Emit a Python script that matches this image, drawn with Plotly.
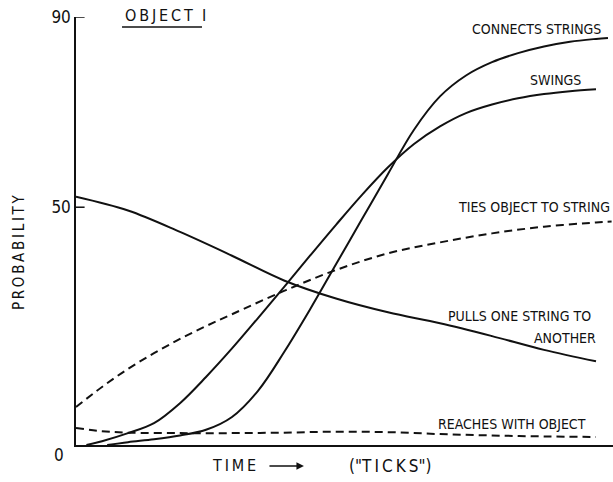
import plotly.graph_objects as go

# Probability of each behaviour over time (in "ticks") for object 1
time_pulls = [0, 10, 20, 30, 40, 50, 60, 70, 80, 90, 100]
pulls = [52.2, 49.3, 44.8, 39.8, 34.6, 30.8, 27.9, 25.6, 22.9, 20.0, 17.6]

time_ties = [0, 5, 10, 15, 20, 25, 30, 40, 50, 60, 70, 80, 90, 100, 103]
ties = [8.0, 12.2, 16.0, 19.3, 22.3, 25.0, 27.5, 32.4, 36.8, 40.3, 42.6, 44.5, 45.9, 46.8, 47.0]

time_swings = [2, 5, 10, 15, 20, 25, 30, 35, 40, 45, 50, 55, 60, 65, 70, 75, 80, 85, 90, 95, 100]
swings = [0.0, 0.8, 2.5, 4.6, 8.8, 14.3, 20.3, 26.7, 33.2, 39.8, 46.3, 52.6, 58.4, 63.3, 67.0, 69.8, 71.6, 72.9, 73.8, 74.4, 74.8]

time_connects = [6, 10, 15, 20, 25, 30, 35, 40, 45, 50, 55, 60, 65, 70, 75, 80, 85, 90, 95, 100, 102.3]
connects = [0.0, 0.6, 1.2, 2.0, 3.2, 5.9, 11.4, 19.5, 28.5, 38.0, 47.5, 57.0, 66.3, 73.3, 77.7, 80.5, 82.4, 83.8, 84.8, 85.4, 85.6]

time_reaches = [0, 5, 10, 20, 30, 40, 50, 60, 70, 80, 90, 100]
reaches = [3.6, 2.9, 2.6, 2.5, 2.5, 2.6, 2.8, 2.7, 2.3, 2.0, 1.8, 1.7]

y_ticks = [50, 90]
y_tick_text = ["50", "90"]

FONT = "Liberation Sans Narrow, DejaVu Sans Condensed, Arial, sans-serif"
INK = "#111111"
THIN = "\u2009"


def spaced(word):
    """Letter-spaced lettering, as on a hand-lettered figure."""
    return THIN.join(word)


fig = go.Figure()

series = [
    (time_pulls, pulls, "solid"),
    (time_ties, ties, "8px,5px"),
    (time_swings, swings, "solid"),
    (time_connects, connects, "solid"),
    (time_reaches, reaches, "8px,5px"),
]
for xs, ys, dash in series:
    fig.add_trace(go.Scatter(
        x=xs, y=ys, mode="lines",
        line=dict(color=INK, width=2, dash=dash, shape="spline", smoothing=1.0),
        showlegend=False, hoverinfo="skip", cliponaxis=False,
    ))

# curve labels, placed in data coordinates
labels = [
    ("CONNECTS STRINGS", 101.3, 87.5),
    ("SWINGS", 97.5, 76.8),
    ("TIES OBJECT TO STRING", 103.1, 50.0),
    ("PULLS ONE STRING TO", 99.4, 27.1),
    ("ANOTHER", 100.4, 22.5),
    ("REACHES WITH OBJECT", 98.5, 4.4),
]
annotations = [
    dict(text=t, x=x, y=y, xref="x", yref="y", xanchor="right", yanchor="middle",
         showarrow=False, font=dict(family=FONT, size=14, color=INK))
    for t, x, y in labels
]

# titles and the zero label sit outside the axes, so they use paper coordinates
annotations += [
    dict(text=spaced("OBJECT") + "  I", x=0.0875, y=1.003, xref="paper", yref="paper",
         xanchor="left", yanchor="middle", showarrow=False,
         font=dict(family=FONT, size=16, color=INK)),
    dict(text="0", x=-0.0317, y=-0.0234, xref="paper", yref="paper", xanchor="center",
         yanchor="middle", showarrow=False, font=dict(family=FONT, size=17, color=INK)),
    dict(text=spaced("TIME"), x=0.2495, y=-0.049, xref="paper", yref="paper", xanchor="left",
         yanchor="middle", showarrow=False, font=dict(family=FONT, size=16, color=INK)),
    # arrow pointing along the time axis
    dict(text="", x=0.4245, y=-0.049, xref="paper", yref="paper", ax=-36, ay=0,
         showarrow=True, arrowhead=2, arrowsize=1, arrowwidth=1.5, arrowcolor=INK),
    dict(text="(\"" + spaced("TICKS") + "\")", x=0.5047, y=-0.049, xref="paper",
         yref="paper", xanchor="left", yanchor="middle", showarrow=False,
         font=dict(family=FONT, size=17, color=INK)),
    dict(text=spaced("PROBABILITY"), x=-0.106, y=0.451, xref="paper", yref="paper",
         xanchor="center", yanchor="middle", textangle=-90, showarrow=False,
         font=dict(family=FONT, size=15, color=INK)),
]

# underline of the title and the inward tick marks on the probability axis
shapes = [dict(type="line", xref="paper", yref="paper", x0=0.0857, x1=0.2346,
               y0=0.9766, y1=0.9766, line=dict(color=INK, width=1.5))]
shapes += [dict(type="line", xref="paper", yref="y", x0=0, x1=0.016, y0=v, y1=v,
                line=dict(color=INK, width=1.5)) for v in y_ticks]

fig.update_layout(
    width=613, height=482,
    margin=dict(l=76, r=0, t=17, b=37),
    paper_bgcolor="white", plot_bgcolor="white",
    annotations=annotations,
    shapes=shapes,
    xaxis=dict(range=[0, 103.27], showgrid=False, zeroline=False, showticklabels=False,
               ticks="", showline=True, linecolor=INK, linewidth=1.5, fixedrange=True),
    yaxis=dict(range=[0, 90], showgrid=False, zeroline=False, tickvals=y_ticks,
               ticktext=y_tick_text, ticks="", showline=True, linecolor=INK, linewidth=1.5,
               tickfont=dict(family=FONT, size=17, color=INK), fixedrange=True),
)

fig.write_html("out.html")
